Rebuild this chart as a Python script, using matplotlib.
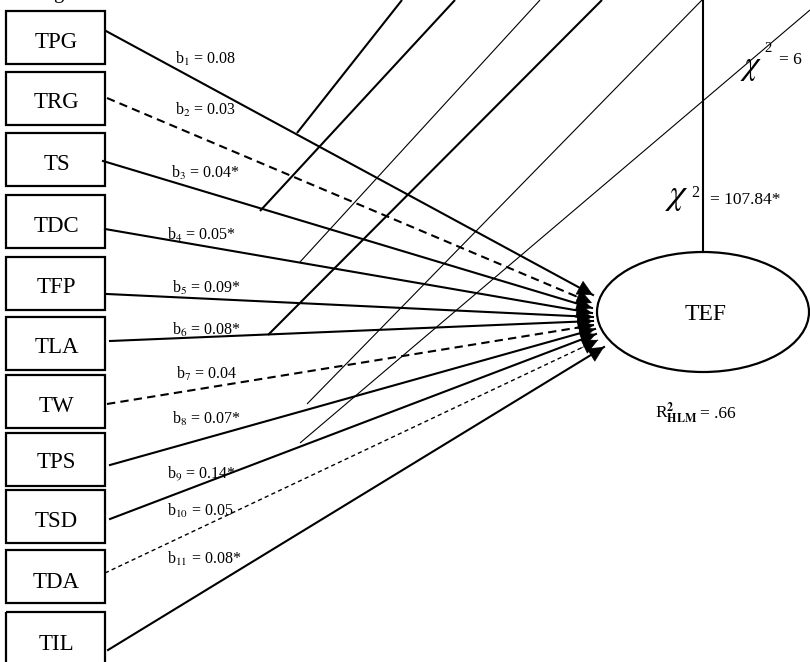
import matplotlib
matplotlib.use('Agg')
import matplotlib.pyplot as plt
from matplotlib.patches import Rectangle, Ellipse

plt.rcParams['font.family'] = ['Liberation Serif', 'DejaVu Serif']
plt.rcParams['mathtext.fontset'] = 'stix'

# ---------------- data ----------------
predictors = ['TPG', 'TRG', 'TS', 'TDC', 'TFP', 'TLA', 'TW', 'TPS', 'TSD', 'TDA', 'TIL']
coefficients = [0.08, 0.03, 0.04, 0.05, 0.09, 0.08, 0.04, 0.07, 0.14, 0.05, 0.08]
significant = [False, False, True, True, True, True, False, True, True, False, True]
path_styles = ['solid', 'dashed', 'solid', 'solid', 'solid', 'solid', 'dashed',
               'solid', 'solid', 'dotted', 'solid']
outcome = 'TEF'
r2_hlm = '.66'
chi2_labels = ['= 107.84*', '= 6']

# ---------------- layout (pixel space) ----------------
W, H = 810, 662
box_x, box_w, box_h = 6, 99, 53
box_tops = [11, 72, 133, 195, 257, 317, 375, 433, 490, 550, 612]
label_baselines = [48, 108, 170, 232, 293, 353, 412, 468, 527, 588, 650]
path_starts = [(106, 31), (107, 98), (103, 161), (105, 229), (107, 294), (110, 341),
               (107, 404), (110, 465), (110, 519), (105, 573), (108, 650)]
path_tips = [(593, 295), (592, 303), (592, 308), (592, 313), (593, 317), (593, 321),
             (594, 325), (595, 329), (596, 334), (598, 340), (604, 347)]
coef_pos = [(175, 64), (175, 115), (171, 178), (167, 240), (172, 293), (172, 335),
            (176, 379), (172, 424), (167, 478), (167, 516), (167, 564)]
# covariance-like connector lines (start on a path, run off the top)
conn_lines = [((297, 133), (402, 0)), ((260, 211), (455, 0)), ((300, 262), (540, 0)),
              ((268, 335), (602, 0)), ((307, 404), (702, 0)), ((300, 443), (810, 10))]
conn_widths = [1.5, 1.5, 0.8, 1.5, 0.8, 0.8]
ell_c, ell_w, ell_h = (703, 312), 212, 120

fig = plt.figure(figsize=(W / 100, H / 100), dpi=100)
ax = fig.add_axes([0, 0, 1, 1])
ax.set_xlim(0, W)
ax.set_ylim(H, 0)
ax.axis('off')

# cut-off title fragment at the very top
ax.text(58, -2, 'g', fontsize=15, ha='center', va='baseline', color='black')

# predictor boxes
for name, top, base in zip(predictors, box_tops, label_baselines):
    ax.add_patch(Rectangle((box_x, top), box_w, box_h, fill=False, lw=1.6, ec='black'))
    ax.text(box_x + box_w / 2 + 1, base, name, fontsize=16.5, ha='center', va='baseline')

# connector lines
for (p0, p1), lw in zip(conn_lines, conn_widths):
    ax.plot([p0[0], p1[0]], [p0[1], p1[1]], color='black', lw=lw, solid_capstyle='butt')

# vertical line to the outcome
ax.plot([ell_c[0], ell_c[0]], [0, ell_c[1] - ell_h / 2], color='black', lw=1.5)

# paths
style_map = {
    'solid': dict(ls='-', lw=1.5),
    'dashed': dict(ls=(0, (4, 2.5)), lw=1.5),
    'dotted': dict(ls=(0, (3, 2.3)), lw=1.0),
}
for s, t, st in zip(path_starts, path_tips, path_styles):
    ax.plot([s[0], t[0]], [s[1], t[1]], color='black', **style_map[st])
    dx, dy = s[0] - t[0], s[1] - t[1]
    L = (dx * dx + dy * dy) ** 0.5
    back = (t[0] + dx * 20 / L, t[1] + dy * 20 / L)
    ax.annotate('', xy=t, xytext=back,
                arrowprops=dict(arrowstyle='-|>', mutation_scale=26, color='black',
                                lw=0.5, shrinkA=0, shrinkB=0))

# coefficient labels
for i, (c, sig, pos) in enumerate(zip(coefficients, significant, coef_pos)):
    txt = 'b$_{%d}$ = %.2f%s' % (i + 1, c, '*' if sig else '')
    ax.text(pos[0], pos[1], txt, fontsize=11.5, ha='left', va='baseline')

# outcome ellipse
ax.add_patch(Ellipse(ell_c, ell_w, ell_h, fill=False, lw=1.6, ec='black'))
ax.text(ell_c[0] + 3, 320, outcome, fontsize=17, ha='center', va='baseline')

# chi-square labels
ax.text(689, 204, r'$\chi$', fontsize=26, ha='right', va='baseline')
ax.text(691, 197, '2', fontsize=11.5, ha='left', va='baseline')
ax.text(710, 204, chi2_labels[0], fontsize=12.5, ha='left', va='baseline')

ax.text(762, 74, r'$\chi$', fontsize=24, ha='right', va='baseline')
ax.text(764, 52, '2', fontsize=10.5, ha='left', va='baseline')
ax.text(779, 64, chi2_labels[1], fontsize=12.5, ha='left', va='baseline')

# R-squared
ax.text(655, 418, r'R$^{\mathbf{2}}_{\mathbf{HLM}}$', fontsize=12.5, ha='left', va='baseline')
ax.text(700, 418, '= ' + r2_hlm, fontsize=12.5, ha='left', va='baseline')

fig.savefig('out.png', dpi=100)
